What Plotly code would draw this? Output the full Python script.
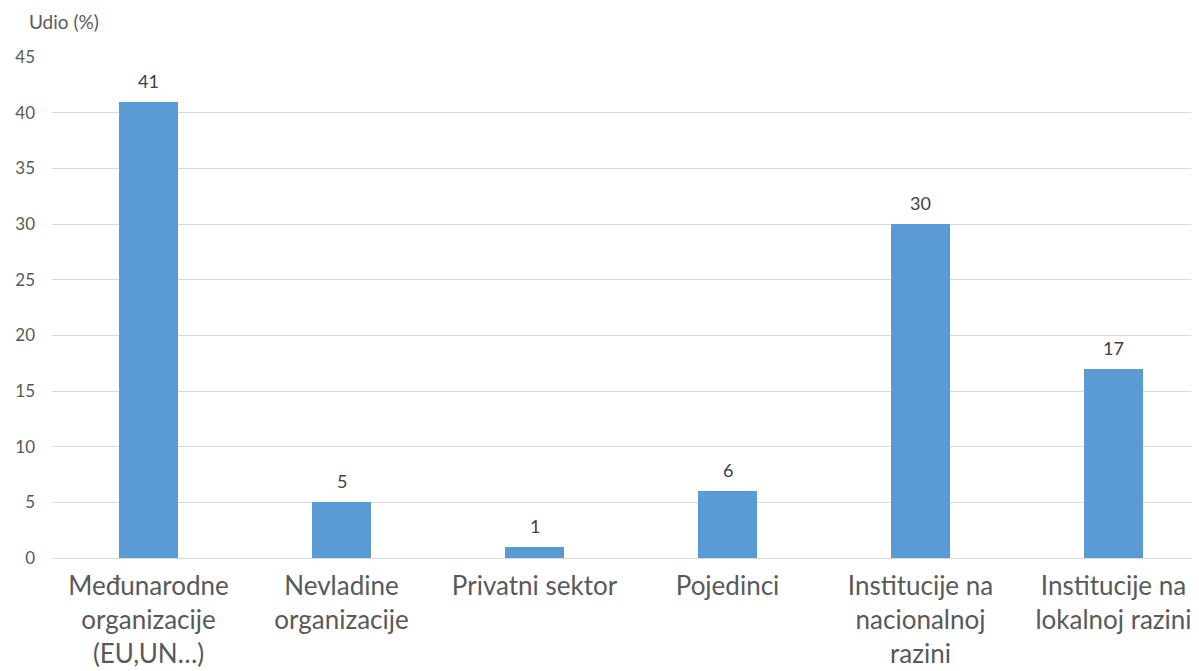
import plotly.graph_objects as go

categories = [
    "Međunarodne<br>organizacije<br>(EU,UN…)",
    "Nevladine<br>organizacije",
    "Privatni sektor",
    "Pojedinci",
    "Institucije na<br>nacionalnoj<br>razini",
    "Institucije na<br>lokalnoj razini",
]
values = [41, 5, 1, 6, 30, 17]
y_ticks = [0, 5, 10, 15, 20, 25, 30, 35, 40, 45]

W, H = 1199, 671
L, T, B = 44, 49, 121
step = 193.0
plot_w = W - L
plot_h = H - T - B
x_max = -0.5 + plot_w / step
xs = list(range(len(categories)))

fig = go.Figure(go.Bar(
    x=xs,
    y=values,
    width=0.31,
    marker=dict(color="#5B9BD5", line=dict(width=0)),
))

annotations = [dict(
    x=x, y=v, xref="x", yref="y", text=str(v), showarrow=False,
    xanchor="center", yanchor="bottom", yshift=8,
    font=dict(size=18, color="#404040", family="Lato"),
) for x, v in zip(xs, values)]

annotations.append(dict(
    text="Udio (%)", xref="paper", yref="paper",
    x=(19 - L) / plot_w, y=1 + (T - 14) / plot_h,
    xanchor="left", yanchor="middle", showarrow=False,
    font=dict(size=19, color="#595959", family="Lato"),
))

fig.update_layout(
    width=W, height=H,
    margin=dict(l=L, r=0, t=T, b=B, pad=0),
    paper_bgcolor="white", plot_bgcolor="white",
    font=dict(family="Lato", color="#595959"),
    showlegend=False,
    bargap=0,
    xaxis=dict(
        tickmode="array",
        tickvals=xs,
        ticktext=categories,
        range=[-0.5, x_max],
        showgrid=False, zeroline=False, showline=False,
        ticks="", ticklabelstandoff=10,
        tickfont=dict(size=26, color="#595959"),
    ),
    yaxis=dict(
        range=[0, 45], tickvals=y_ticks,
        showgrid=True, gridcolor="#D9D9D9", gridwidth=1,
        zeroline=True, zerolinecolor="#D9D9D9", zerolinewidth=1,
        showline=False, ticks="", ticklen=0, ticklabelstandoff=16,
        tickfont=dict(size=17, color="#595959"),
    ),
    annotations=annotations,
)

fig.write_html("out.html")
